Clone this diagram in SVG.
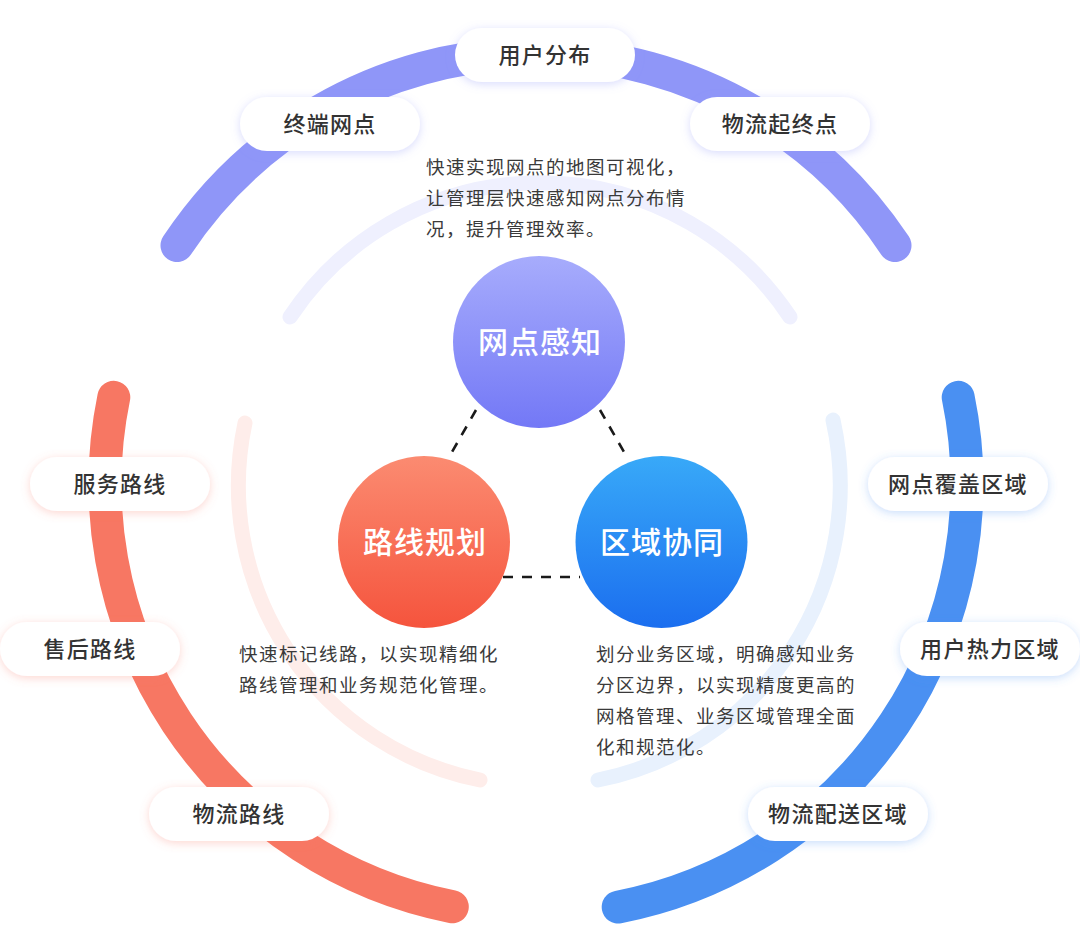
<svg xmlns="http://www.w3.org/2000/svg" width="1080" height="933" viewBox="0 0 1080 933">
<defs>
<linearGradient id="gP" x1="0" y1="0" x2="0" y2="1"><stop offset="0" stop-color="#A7ACFC"/><stop offset="1" stop-color="#7378F6"/></linearGradient>
<linearGradient id="gR" x1="0" y1="0" x2="0" y2="1"><stop offset="0" stop-color="#FB8B71"/><stop offset="1" stop-color="#F5543D"/></linearGradient>
<linearGradient id="gB" x1="0" y1="0" x2="0" y2="1"><stop offset="0" stop-color="#38A9F8"/><stop offset="1" stop-color="#1B6EEF"/></linearGradient>
<filter id="fP" x="-30%" y="-60%" width="160%" height="220%"><feDropShadow dx="0" dy="2" stdDeviation="5" flood-color="#8F96F8" flood-opacity="0.35"/></filter>
<filter id="fR" x="-30%" y="-60%" width="160%" height="220%"><feDropShadow dx="0" dy="2" stdDeviation="5" flood-color="#F77763" flood-opacity="0.3"/></filter>
<filter id="fB" x="-30%" y="-60%" width="160%" height="220%"><feDropShadow dx="0" dy="2" stdDeviation="5" flood-color="#4A90F2" flood-opacity="0.3"/></filter>
</defs>
<style>
.arc{fill:none;stroke-linecap:round}
.outer{stroke-width:33}
.inner{stroke-width:15}
.pill{fill:#FFFFFF}
.lbl{font-family:"Noto Sans CJK SC","Noto Sans",sans-serif;font-size:22px;font-weight:500;fill:#333333;text-anchor:middle;letter-spacing:1.3px}
.node{font-family:"Noto Sans CJK SC","Noto Sans",sans-serif;font-size:30px;font-weight:500;fill:#FFFFFF;text-anchor:middle;letter-spacing:1px}
.desc{font-family:"Noto Sans CJK SC","Noto Sans",sans-serif;font-size:18.5px;fill:#3A3A3A;letter-spacing:1.5px}
.dash{stroke:#1A1A1A;stroke-width:2.6;stroke-dasharray:10 9;fill:none}
</style>
<rect width="1080" height="933" fill="#FFFFFF"/>
<g id="arcs">
<path class="arc inner" stroke="#EFF0FE" d="M290,317 A300,300 0 0 1 790,317"/>
<path class="arc inner" stroke="#FEEDEA" d="M480,780 A300,300 0 0 1 245,423"/>
<path class="arc inner" stroke="#E8F1FD" d="M833,420 A300,300 0 0 1 598,780"/>
<path class="arc outer" stroke="#8F96F8" d="M177,245.5 A431,431 0 0 1 895,245.5"/>
<path class="arc outer" stroke="#F77763" d="M452.3,906.8 A431,431 0 0 1 113.8,397.3"/>
<path class="arc outer" stroke="#4A90F2" d="M958.2,397.3 A431,431 0 0 1 618.2,907.1"/>
</g>
<g id="connectors">
<line class="dash" x1="476" y1="410" x2="448" y2="459"/>
<line class="dash" x1="600" y1="410" x2="628" y2="459"/>
<line class="dash" x1="503" y1="577" x2="580" y2="577"/>
</g>
<g id="label-yonghufenbu"><rect class="pill" filter="url(#fP)" x="455" y="28" width="180" height="54" rx="27"/><text class="lbl" x="545" y="63">用户分布</text></g>
<g id="label-zhongduanwangdian"><rect class="pill" filter="url(#fP)" x="240" y="97" width="180" height="54" rx="27"/><text class="lbl" x="330" y="132">终端网点</text></g>
<g id="label-wuliuqizhongdian"><rect class="pill" filter="url(#fP)" x="690" y="97" width="180" height="54" rx="27"/><text class="lbl" x="780" y="132">物流起终点</text></g>
<g id="label-fuwuluxian"><rect class="pill" filter="url(#fR)" x="30" y="457" width="180" height="54" rx="27"/><text class="lbl" x="120" y="492">服务路线</text></g>
<g id="label-shouhouluxian"><rect class="pill" filter="url(#fR)" x="0" y="622" width="180" height="54" rx="27"/><text class="lbl" x="90" y="657">售后路线</text></g>
<g id="label-wuliuluxian"><rect class="pill" filter="url(#fR)" x="149" y="787" width="180" height="54" rx="27"/><text class="lbl" x="239" y="822">物流路线</text></g>
<g id="label-wangdianfugai"><rect class="pill" filter="url(#fB)" x="868" y="457" width="180" height="54" rx="27"/><text class="lbl" x="958" y="492">网点覆盖区域</text></g>
<g id="label-yonghureli"><rect class="pill" filter="url(#fB)" x="900" y="622" width="180" height="54" rx="27"/><text class="lbl" x="990" y="657">用户热力区域</text></g>
<g id="label-wuliupeisong"><rect class="pill" filter="url(#fB)" x="748" y="787" width="180" height="54" rx="27"/><text class="lbl" x="838" y="822">物流配送区域</text></g>
<g id="node-wangdianganzhi"><circle cx="539" cy="342" r="86" fill="url(#gP)"/><text class="node" x="540" y="353">网点感知</text></g>
<g id="node-luxianguihua"><circle cx="424" cy="542" r="86" fill="url(#gR)"/><text class="node" x="425" y="553">路线规划</text></g>
<g id="node-quyuxietong"><circle cx="661.5" cy="542" r="86" fill="url(#gB)"/><text class="node" x="662" y="553">区域协同</text></g>
<g id="desc-top"><text class="desc" x="426" y="174">快速实现网点的地图可视化，</text><text class="desc" x="426" y="205">让管理层快速感知网点分布情</text><text class="desc" x="426" y="236">况，提升管理效率。</text></g>
<g id="desc-left"><text class="desc" x="239" y="661">快速标记线路，以实现精细化</text><text class="desc" x="239" y="692">路线管理和业务规范化管理。</text></g>
<g id="desc-right"><text class="desc" x="596" y="661">划分业务区域，明确感知业务</text><text class="desc" x="596" y="692">分区边界，以实现精度更高的</text><text class="desc" x="596" y="723">网格管理、业务区域管理全面</text><text class="desc" x="596" y="754">化和规范化。</text></g>
</svg>
